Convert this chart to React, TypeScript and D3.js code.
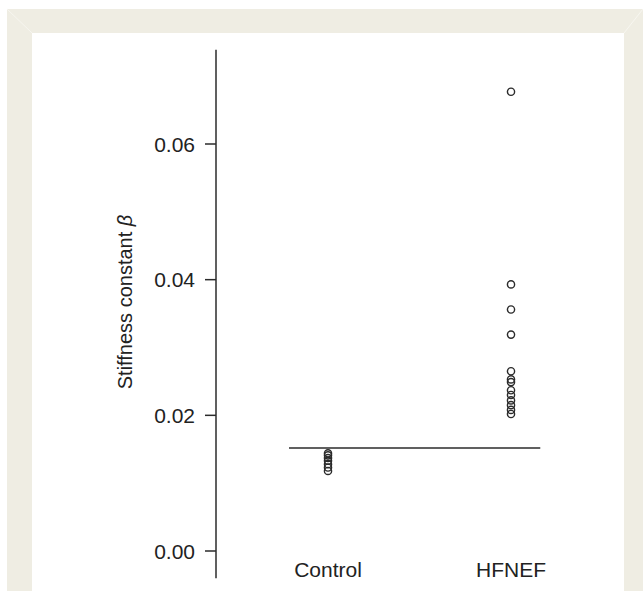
import React, { useRef, useEffect } from "react";
import * as d3 from "d3";

const groups = ["Control", "HFNEF"];
const controlValues = [0.0144, 0.0141, 0.0137, 0.0133, 0.0128, 0.0123, 0.0118];
const hfnefValues = [
  0.0677, 0.0393, 0.0356, 0.0319, 0.0265, 0.0253, 0.0249, 0.0237, 0.023, 0.0222,
  0.0215, 0.0208, 0.0202,
];
const yTicks = [0, 0.02, 0.04, 0.06];
const cutoff = 0.0152;

const App = () => {
  const ref = useRef<SVGSVGElement>(null);

  useEffect(() => {
    document.body.style.margin = "0";
    const width = 643;
    const height = 591;
    const font = "'Liberation Sans', Arial, Helvetica, sans-serif";

    const svg = d3.select(ref.current);
    svg.selectAll("*").remove();

    // page frame
    svg.append("rect").attr("width", width).attr("height", height).attr("fill", "#fff");
    svg
      .append("rect")
      .attr("x", 7)
      .attr("y", 9)
      .attr("width", width - 7)
      .attr("height", height - 9)
      .attr("fill", "#efede3");
    svg
      .append("path")
      .attr("d", "M7,9L32,33M643,9L624,33")
      .attr("stroke", "#f7f6f0")
      .attr("stroke-width", 1);
    svg
      .append("rect")
      .attr("x", 32)
      .attr("y", 33)
      .attr("width", 624 - 32)
      .attr("height", height - 33)
      .attr("fill", "#fff");

    const y = d3.scaleLinear().domain([0, 0.06]).range([551, 144]);
    const x = d3.scaleLinear().domain([0, 1]).range([328, 511]);
    const axisX = 216;
    const ink = "#2b2b2b";

    // y axis
    svg
      .append("line")
      .attr("x1", axisX)
      .attr("x2", axisX)
      .attr("y1", y(0.0739))
      .attr("y2", y(-0.004))
      .attr("stroke", ink)
      .attr("stroke-width", 1.5);

    const ticks = svg.append("g");
    ticks
      .selectAll("line")
      .data(yTicks)
      .enter()
      .append("line")
      .attr("x1", axisX - 11)
      .attr("x2", axisX)
      .attr("y1", (d) => y(d))
      .attr("y2", (d) => y(d))
      .attr("stroke", ink)
      .attr("stroke-width", 1.5);
    ticks
      .selectAll("text")
      .data(yTicks)
      .enter()
      .append("text")
      .attr("x", 195)
      .attr("y", (d) => y(d))
      .attr("dy", "0.36em")
      .attr("text-anchor", "end")
      .attr("font-size", "21px")
      .style("font-family", font)
      .attr("fill", "#222")
      .text((d) => d3.format(".2f")(d));

    // y label
    const label = svg
      .append("text")
      .attr("transform", "translate(132,302) rotate(-90)")
      .attr("text-anchor", "middle")
      .attr("font-size", "20px")
      .style("font-family", font)
      .attr("fill", "#222");
    label.append("tspan").text("Stiffness constant ");
    label.append("tspan").attr("font-style", "italic").text("β");

    // group labels
    svg
      .selectAll("text.group")
      .data(groups)
      .enter()
      .append("text")
      .attr("class", "group")
      .attr("x", (_, i) => x(i))
      .attr("y", 577)
      .attr("text-anchor", "middle")
      .attr("font-size", "21px")
      .style("font-family", font)
      .attr("fill", "#222")
      .text((d) => d);

    // cutoff line
    svg
      .append("line")
      .attr("x1", x(-0.213))
      .attr("x2", x(1.16))
      .attr("y1", y(cutoff))
      .attr("y2", y(cutoff))
      .attr("stroke", ink)
      .attr("stroke-width", 1.5);

    // points
    const series = [controlValues, hfnefValues];
    series.forEach((vals, i) => {
      svg
        .append("g")
        .selectAll("circle")
        .data(vals)
        .enter()
        .append("circle")
        .attr("cx", x(i))
        .attr("cy", (d) => y(d))
        .attr("r", 3.6)
        .attr("fill", "none")
        .attr("stroke", ink)
        .attr("stroke-width", 1.4);
    });
  }, []);

  return <svg ref={ref} width={643} height={591} style={{ display: "block" }}></svg>;
};

export default App;
